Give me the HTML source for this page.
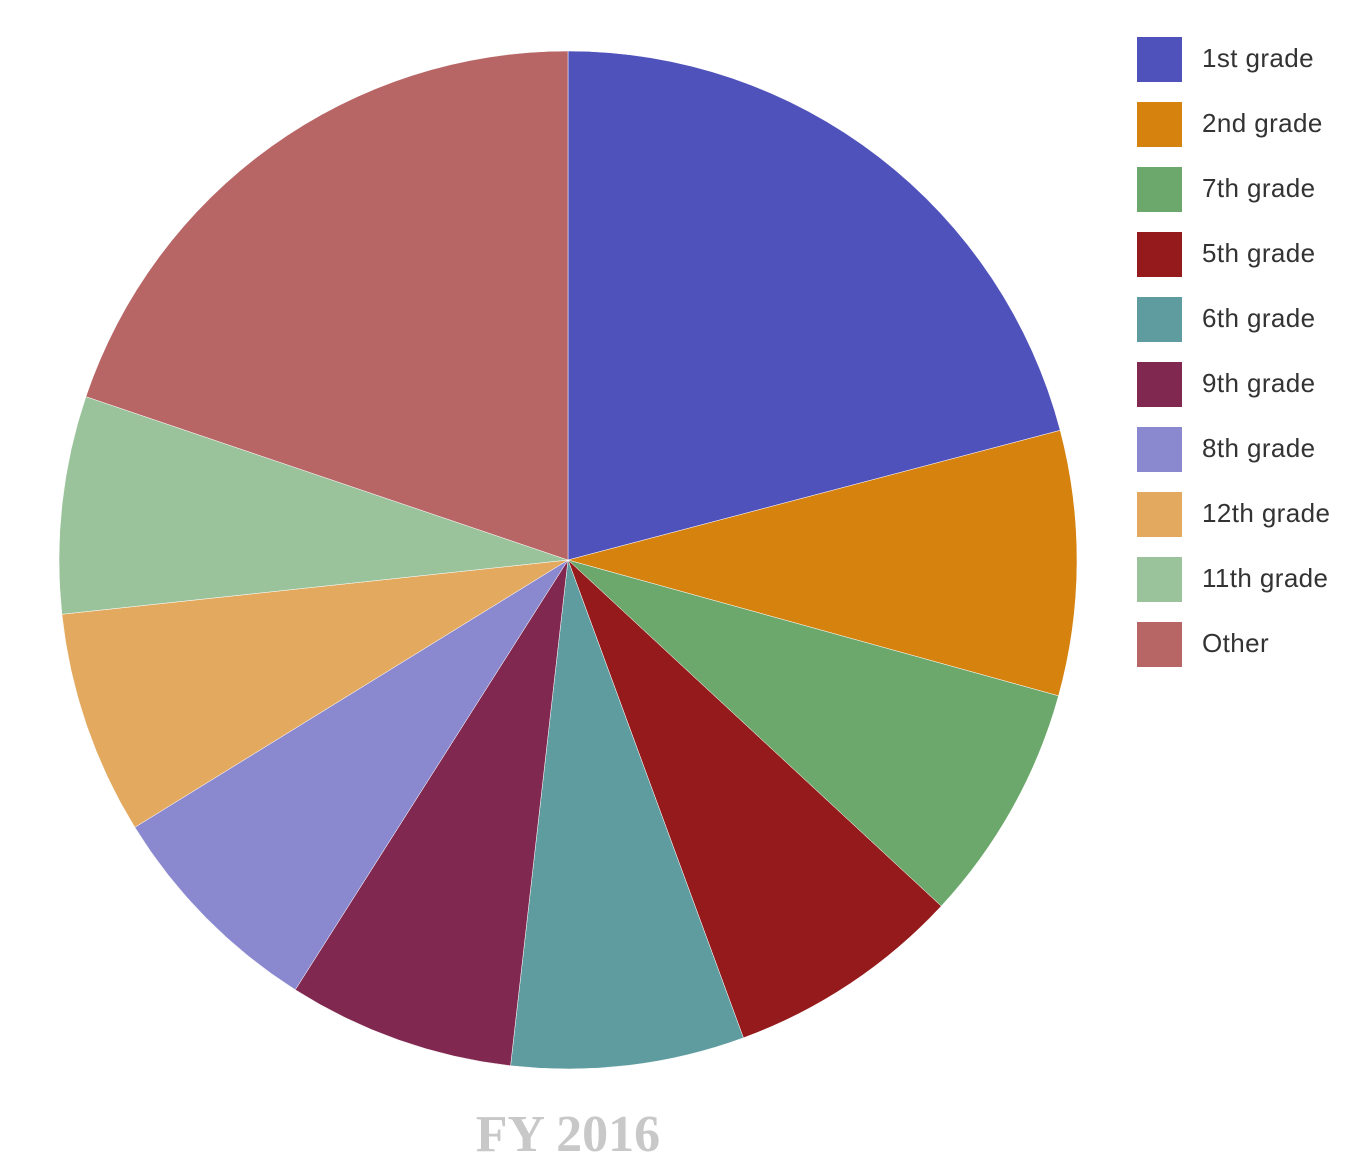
<!DOCTYPE html>
<html><head><meta charset="utf-8"><style>
body{margin:0;background:#fff;width:1372px;height:1170px;overflow:hidden;font-family:"Liberation Sans",sans-serif}
</style></head><body>
<svg id="chart" width="1372" height="1170">
<g id="slices"></g>
<g id="legend"></g>
<text x="568" y="1151" text-anchor="middle" font-family="'Liberation Serif',serif" font-weight="bold" font-size="52" fill="#c8c8c8">FY 2016</text>
</svg>
<script>
const categories=["1st grade","2nd grade","7th grade","5th grade","6th grade","9th grade","8th grade","12th grade","11th grade","Other"];
const values=[20.9,8.4,7.6,7.5,7.4,7.2,7.2,7.1,6.9,19.8];
const colors=["#5052bb","#d6820f","#6ca86b","#951a1b","#5e9c9f","#80284f","#8a89d0","#e3a95e","#9bc39b","#b86566"];
const cx=568,cy=560,r=509;
const ns="http://www.w3.org/2000/svg";
const total=values.reduce((a,b)=>a+b,0);
const sg=document.getElementById('slices');
let a0=0;
function pt(a){return [cx+r*Math.sin(a),cy-r*Math.cos(a)];}
values.forEach((v,i)=>{
  const a1=a0+v/total*2*Math.PI;
  const p0=pt(a0),p1=pt(a1);
  const large=(a1-a0)>Math.PI?1:0;
  const p=document.createElementNS(ns,'path');
  p.setAttribute('d',`M${cx},${cy}L${p0[0]},${p0[1]}A${r},${r} 0 ${large} 1 ${p1[0]},${p1[1]}Z`);
  p.setAttribute('fill',colors[i]);
  p.setAttribute('stroke','#fff');
  p.setAttribute('stroke-width','0.5');
  
  
  sg.appendChild(p);
  a0=a1;
});
const lg=document.getElementById('legend');
categories.forEach((c,i)=>{
  const y=37+i*65;
  const g=document.createElementNS(ns,'g');
  
  
  const rc=document.createElementNS(ns,'rect');
  rc.setAttribute('x',1137);rc.setAttribute('y',y);rc.setAttribute('width',45);rc.setAttribute('height',45);
  rc.setAttribute('fill',colors[i]);
  const t=document.createElementNS(ns,'text');
  t.setAttribute('x',1202);t.setAttribute('y',y+30);
  t.setAttribute('font-size','26');t.setAttribute('fill','#333');
  t.setAttribute('letter-spacing','0.4');
  t.textContent=c;
  g.appendChild(rc);g.appendChild(t);lg.appendChild(g);
});
</script>
</body></html>
